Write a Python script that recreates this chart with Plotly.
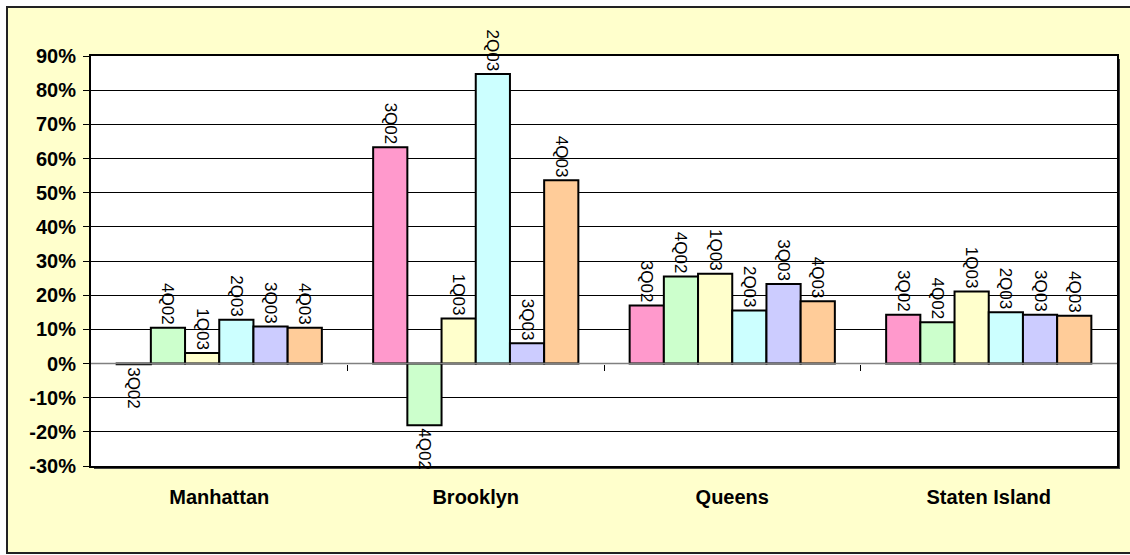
import plotly.graph_objects as go

boroughs = ["Manhattan", "Brooklyn", "Queens", "Staten Island"]
quarters = ["3Q02", "4Q02", "1Q03", "2Q03", "3Q03", "4Q03"]
values = {
    "3Q02": [-0.2, 63.3, 17.0, 14.3],
    "4Q02": [10.5, -18.1, 25.5, 12.1],
    "1Q03": [3.1, 13.2, 26.3, 21.1],
    "2Q03": [12.8, 84.7, 15.5, 15.0],
    "3Q03": [10.8, 5.9, 23.3, 14.3],
    "4Q03": [10.5, 53.6, 18.2, 14.0],
}
colors = ["#FF99CC", "#CCFFCC", "#FFFFCC", "#CCFFFF", "#CCCCFF", "#FFCC99"]
y_ticks = list(range(-30, 91, 10))

W, H = 1130, 555
L, R, T, B = 91, 1117, 56, 466
ymin, ymax = -30, 90

fig = go.Figure()
for q, c in zip(quarters, colors):
    fig.add_trace(go.Bar(
        x=boroughs, y=[v / 100 for v in values[q]], name=q,
        marker=dict(color=c, line=dict(color="black", width=2)),
        text=[q] * len(boroughs), textposition="outside", textangle=90,
        constraintext="none", cliponaxis=False,
        textfont=dict(family="Liberation Sans, Arial", size=17, color="black"),
    ))

# category boundary ticks on the zero line
fig.add_trace(go.Scatter(x=[0, 4], y=[0, 0], xaxis="x2", mode="lines",
                         line=dict(color="#808080", width=1.5), showlegend=False,
                         hoverinfo="skip"))

def px2fx(px):
    return (px - L) / (R - L)

def py2fy(py):
    return (B - py) / (B - T)

shapes = [
    dict(type="rect", xref="paper", yref="paper", layer="below",
         x0=px2fx(7), x1=px2fx(1140), y0=py2fy(553), y1=py2fy(7),
         fillcolor="#FFFFCC", line=dict(color="#222222", width=2)),
    dict(type="rect", xref="paper", yref="paper", layer="below",
         x0=px2fx(L + 3), x1=px2fx(R + 3), y0=py2fy(B + 3), y1=py2fy(T + 3),
         fillcolor="#444444", line=dict(width=0)),
    dict(type="rect", xref="paper", yref="paper", layer="below",
         x0=0, x1=1, y0=0, y1=1, fillcolor="white", line=dict(width=0)),
]

fig.update_layout(
    width=W, height=H,
    margin=dict(l=L, r=W - R, t=T, b=H - B),
    paper_bgcolor="white", plot_bgcolor="rgba(0,0,0,0)",
    barmode="group", bargap=0.2, bargroupgap=0,
    showlegend=False,
    shapes=shapes,
    font=dict(family="Liberation Sans, Arial", color="black"),
    xaxis=dict(
        type="category", categoryarray=boroughs, range=[-0.5, 3.5],
        showline=True, mirror=True, linecolor="black", linewidth=2,
        ticks="", showgrid=False, zeroline=False,
        tickfont=dict(family="Liberation Sans, Arial", size=20, color="black", weight="bold"),
        ticklabelstandoff=12,
    ),
    xaxis2=dict(
        overlaying="x", anchor="free",
        position=(0 - ymin) / (ymax - ymin),
        range=[0, 4], tickvals=[1, 2, 3], ticks="outside", ticklen=6,
        tickcolor="black", tickwidth=1, showticklabels=False,
        showgrid=False, zeroline=False, showline=False,
    ),
    yaxis=dict(
        range=[ymin / 100, ymax / 100],
        tickvals=[t / 100 for t in y_ticks],
        ticktext=[f"{t}%" for t in y_ticks],
        showgrid=True, gridcolor="black", gridwidth=1,
        zeroline=False,
        showline=True, mirror=True, linecolor="black", linewidth=2,
        ticks="outside", ticklen=6, tickcolor="black",
        tickfont=dict(family="Liberation Sans, Arial", size=20, color="black", weight="bold"),
        ticklabelstandoff=3,
    ),
)

fig.write_html("out.html")
